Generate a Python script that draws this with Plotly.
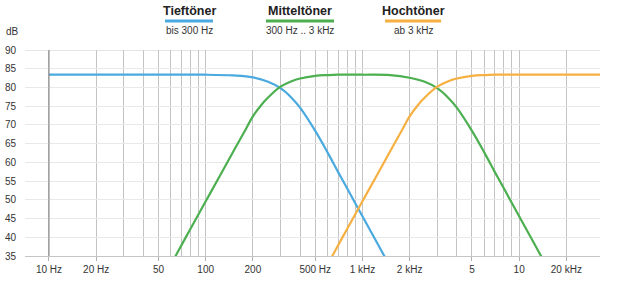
import plotly.graph_objects as go
import math

# ---- data ----
tief_f  = [10, 50, 100, 150, 200, 250, 300, 350, 400, 500, 600, 700, 800, 1000, 1200, 1400]
tief_db = [83.4, 83.4, 83.4, 83.2, 82.7, 81.5, 79.8, 77.4, 74.6, 68.4, 62.6, 57.4, 53.0, 45.6, 39.6, 34.5]

mittel_f  = [60, 65, 80, 100, 125, 150, 175, 200, 225, 250, 300, 350, 400, 500, 600, 700, 1000, 1500,
             2000, 2500, 3000, 3500, 4000, 5000, 6000, 7000, 8000, 10000, 12000, 14000]
mittel_db = [32.7, 35.4, 42.3, 49.6, 56.9, 62.9, 67.9, 72.3, 75.2, 77.3, 80.2, 81.6, 82.4, 83.1, 83.3, 83.4, 83.4, 83.3,
             82.6, 81.5, 79.8, 77.4, 74.6, 68.4, 62.6, 57.4, 53.0, 45.6, 39.6, 34.5]

hoch_f  = [600, 650, 800, 1000, 1250, 1500, 1750, 2000, 2250, 2500, 3000, 3500, 4000, 5000, 6000, 7000, 10000, 20000, 33000]
hoch_db = [32.7, 35.4, 42.3, 49.6, 56.9, 62.9, 67.9, 72.3, 75.2, 77.3, 80.2, 81.6, 82.4, 83.1, 83.3, 83.4, 83.4, 83.4, 83.4]

names = ["Tieftöner", "Mitteltöner", "Hochtöner"]
subtitles = ["bis 300 Hz", "300 Hz .. 3 kHz", "ab 3 kHz"]
colors = ["#4aa9df", "#4caf50", "#f6b042"]

major_ticks = [10, 20, 50, 100, 200, 500, 1000, 2000, 5000, 10000, 20000]
major_text = ["10 Hz", "20 Hz", "50", "100", "200", "500 Hz", "1 kHz", "2 kHz", "5", "10", "20 kHz"]
minor_ticks = [30, 40, 60, 70, 80, 90, 300, 400, 600, 700, 800, 900, 3000, 4000, 6000, 7000, 8000, 9000]
y_ticks = [35, 40, 45, 50, 55, 60, 65, 70, 75, 80, 85, 90]

FONT = "Liberation Sans, Arial, sans-serif"

fig = go.Figure()
for f, db, c in zip([tief_f, mittel_f, hoch_f], [tief_db, mittel_db, hoch_db], colors):
    fig.add_trace(go.Scatter(x=f, y=db, mode="lines", line=dict(color=c, width=2.2, shape="spline", smoothing=1.0),
                             showlegend=False, hoverinfo="skip"))

L, R, T, B = 25, 27, 50, 33
W, H = 627, 289
pw, ph = W - L - R, H - T - B

def px(x):
    return (x - L) / pw

def py(y):
    return (H - B - y) / ph

# custom legend
legend_cx = [189, 300, 413]
legend_hw = [24, 34, 28]
for cx, hw, n, s, c in zip(legend_cx, legend_hw, names, subtitles, colors):
    fig.add_annotation(x=px(cx), y=py(11.5), xref="paper", yref="paper", text="<b>%s</b>" % n,
                       showarrow=False, xanchor="center", yanchor="middle",
                       font=dict(family=FONT, size=12.5, color="#222"))
    fig.add_shape(type="line", xref="paper", yref="paper", x0=px(cx - hw), x1=px(cx + hw), y0=py(21), y1=py(21),
                  line=dict(color=c, width=3))
    fig.add_annotation(x=px(cx), y=py(30), xref="paper", yref="paper", text=s,
                       showarrow=False, xanchor="center", yanchor="middle",
                       font=dict(family=FONT, size=10, color="#333"))

fig.add_annotation(x=px(12), y=py(31), xref="paper", yref="paper", text="dB", showarrow=False,
                   xanchor="center", yanchor="middle", font=dict(family=FONT, size=10, color="#333"))

# top line and the darker 10 Hz line
fig.add_shape(type="line", xref="paper", yref="y", x0=0, x1=1, y0=90, y1=90, line=dict(color="#cccccc", width=1))
fig.add_shape(type="line", xref="x", yref="y", x0=10, x1=10, y0=35, y1=90, line=dict(color="#808080", width=1))

fig.update_layout(
    width=W, height=H, margin=dict(l=L, r=R, t=T, b=B, autoexpand=False),
    paper_bgcolor="white", plot_bgcolor="white",
    font=dict(family=FONT, size=10, color="#333"),
    xaxis=dict(type="log", range=[math.log10(7.03), math.log10(32800)], automargin=False,
               tickmode="array", tickvals=major_ticks, ticktext=major_text,
               showgrid=True, gridcolor="#c4c4c4", gridwidth=1,
               ticks="outside", ticklen=4, tickcolor="#b0b0b0",
               minor=dict(tickmode="array", tickvals=minor_ticks, showgrid=True, gridcolor="#c4c4c4", ticks=""),
               showline=True, linecolor="#c4c4c4", linewidth=1, zeroline=False,
               tickfont=dict(size=10, color="#333")),
    yaxis=dict(range=[35, 90], tickmode="array", tickvals=y_ticks, automargin=False,
               showgrid=True, gridcolor="#e8e8e8", gridwidth=1, zeroline=False,
               ticks="", ticklabelstandoff=8, tickfont=dict(size=10, color="#333")),
)

fig.write_html("out.html")
